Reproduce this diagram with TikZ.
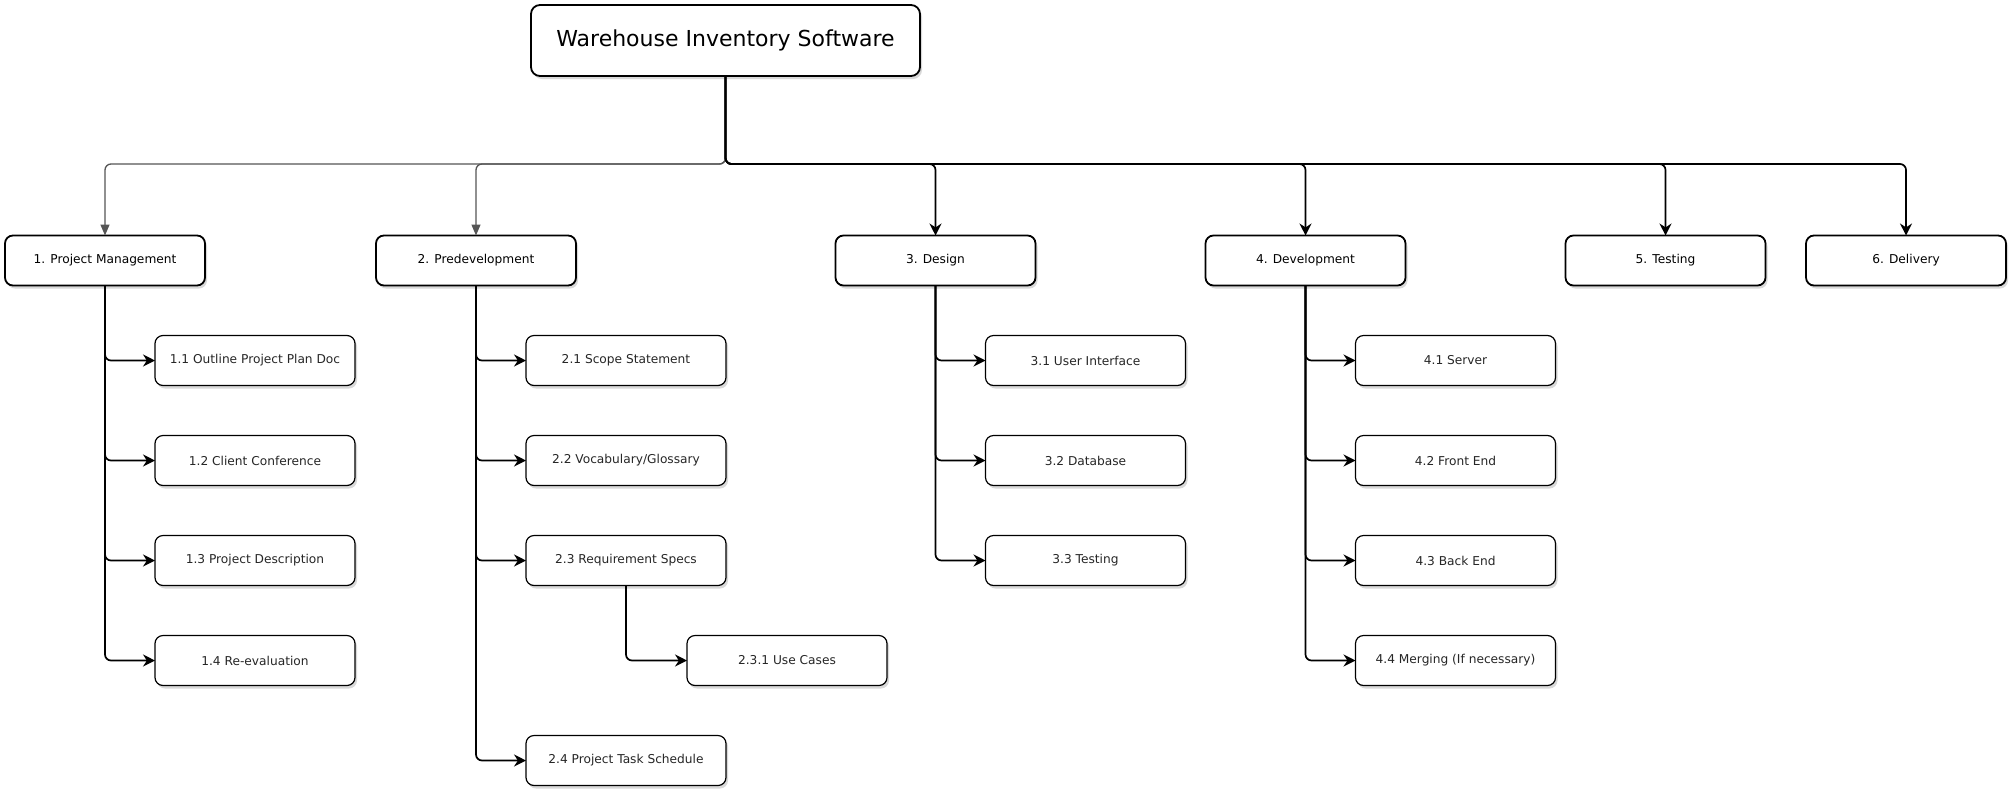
\documentclass[tikz,border=0pt]{standalone}
\usepackage{fontspec}
\setmainfont{DejaVu Sans}
\usetikzlibrary{arrows.meta, positioning, shadows}
\definecolor{linegrey}{HTML}{555555}
\tikzstyle{root} = [rectangle, rounded corners=9pt, minimum width=389pt, minimum height=71pt, text centered, draw=black, line width=1.8pt, outer sep=0pt, fill=white, font=\fontsize{22}{26}\selectfont, drop shadow={shadow xshift=2pt, shadow yshift=-3pt, opacity=0.3}]
\tikzstyle{phase} = [rectangle, rounded corners=8pt, minimum width=200pt, minimum height=50pt, text centered, draw=black, line width=1.8pt, outer sep=0pt, fill=white, font=\fontsize{12.2}{15}\selectfont, drop shadow={shadow xshift=2pt, shadow yshift=-3pt, opacity=0.3}]
\tikzstyle{task} = [rectangle, rounded corners=8pt, minimum width=200pt, minimum height=50pt, text centered, draw=black, line width=1.2pt, outer sep=0pt, fill=white, text=black!85, font=\fontsize{12.2}{15}\selectfont, drop shadow={shadow xshift=2pt, shadow yshift=-3pt, opacity=0.3}]
\tikzstyle{arrow} = [line width=1.7pt, rounded corners=6pt, -{Stealth[length=12pt,width=12pt]}]
\tikzstyle{greyarrow} = [line width=1.3pt, draw=linegrey, rounded corners=6pt, -{Triangle[length=11pt,width=9pt,fill=linegrey]}]

\begin{document}
\begin{tikzpicture}[x=1pt, y=-1pt, node distance=50pt]
\useasboundingbox (0,0) rectangle (2012,793);

% Nodes
\node (wis) [root] at (725.5,40.5) {Warehouse Inventory Software};
\node (pm) [phase] at (105,260.5) {1. Project Management};
\node (pd) [phase] at (476,260.5) {2. Predevelopment};
\node (ds) [phase] at (935.5,260.5) {3. Design};
\node (dv) [phase] at (1305.5,260.5) {4. Development};
\node (ts) [phase] at (1665.5,260.5) {5. Testing};
\node (dl) [phase] at (1906,260.5) {6. Delivery};

\node (pm1) [task, below=of pm, xshift=150pt] {1.1 Outline Project Plan Doc};
\node (pm2) [task, below=of pm1] {1.2 Client Conference};
\node (pm3) [task, below=of pm2] {1.3 Project Description};
\node (pm4) [task, below=of pm3] {1.4 Re-evaluation};

\node (pd1) [task, below=of pd, xshift=150pt] {2.1 Scope Statement};
\node (pd2) [task, below=of pd1] {2.2 Vocabulary/Glossary};
\node (pd3) [task, below=of pd2] {2.3 Requirement Specs};
\node (pd31) [task, below=of pd3, xshift=161pt] {2.3.1 Use Cases};
\node (pd4) [task, below=150pt of pd3] {2.4 Project Task Schedule};

\node (ds1) [task, below=of ds, xshift=150pt] {3.1 User Interface};
\node (ds2) [task, below=of ds1] {3.2 Database};
\node (ds3) [task, below=of ds2] {3.3 Testing};

\node (dv1) [task, below=of dv, xshift=150pt] {4.1 Server};
\node (dv2) [task, below=of dv1] {4.2 Front End};
\node (dv3) [task, below=of dv2] {4.3 Back End};
\node (dv4) [task, below=of dv3] {4.4 Merging (If necessary)};

% Arrows
\draw [greyarrow] (wis.south) -- ++(0,88) -| (pm.north);
\draw [greyarrow] (wis.south) -- ++(0,88) -| (pd.north);
\draw [arrow] (wis.south) -- ++(0,88) -| (ds.north);
\draw [arrow] (wis.south) -- ++(0,88) -| (dv.north);
\draw [arrow] (wis.south) -- ++(0,88) -| (ts.north);
\draw [arrow] (wis.south) -- ++(0,88) -| (dl.north);

\draw [arrow] (pm.south) |- (pm1.west);
\draw [arrow] (pm.south) |- (pm2.west);
\draw [arrow] (pm.south) |- (pm3.west);
\draw [arrow] (pm.south) |- (pm4.west);

\draw [arrow] (pd.south) |- (pd1.west);
\draw [arrow] (pd.south) |- (pd2.west);
\draw [arrow] (pd.south) |- (pd3.west);
\draw [arrow] (pd.south) |- (pd4.west);
\draw [arrow] (pd3.south) |- (pd31.west);

\draw [arrow] (ds.south) |- (ds1.west);
\draw [arrow] (ds.south) |- (ds2.west);
\draw [arrow] (ds.south) |- (ds3.west);

\draw [arrow] (dv.south) |- (dv1.west);
\draw [arrow] (dv.south) |- (dv2.west);
\draw [arrow] (dv.south) |- (dv3.west);
\draw [arrow] (dv.south) |- (dv4.west);

\end{tikzpicture}
\end{document}
